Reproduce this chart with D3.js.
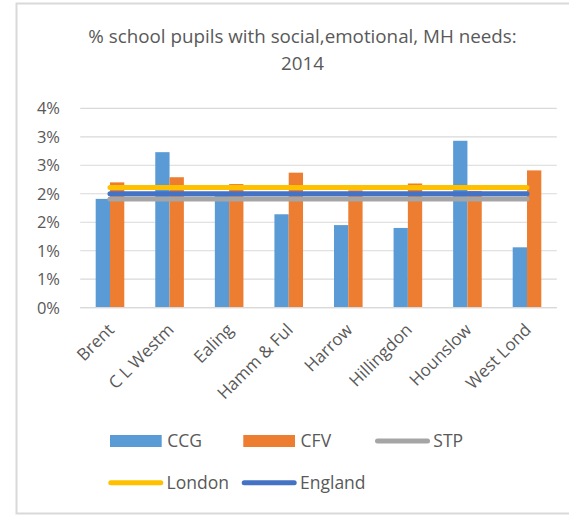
<!DOCTYPE html>
<html><head><meta charset="utf-8">
<script src="https://cdn.jsdelivr.net/npm/d3@7"></script>
<style>body{margin:0;background:#fff}svg{display:block}text{font-family:"Open Sans",sans-serif;fill:#595959}</style>
</head><body><svg id="c" width="569" height="515"></svg>
<script>
const categories = ["Brent","C L Westm","Ealing","Hamm & Ful","Harrow","Hillingdon","Hounslow","West Lond"];
const ccg = [1.91,2.73,2.00,1.64,1.45,1.40,2.93,1.06];
const cfv = [2.20,2.29,2.17,2.37,2.06,2.18,2.05,2.41];
const stp = 1.91, london = 2.11, england = 2.00;
const yTicks = [0,0.5,1,1.5,2,2.5,3,3.5];
const yTickLabels = ["0%","1%","1%","2%","2%","3%","3%","4%"];
const titleLines = ["% school pupils with social,emotional, MH needs:","2014"];
const legendItems = [
  {name:"CCG",type:"bar",color:"#5B9BD5"},
  {name:"CFV",type:"bar",color:"#ED7D31"},
  {name:"STP",type:"line",color:"#A5A5A5"},
  {name:"London",type:"line",color:"#FFC000"},
  {name:"England",type:"line",color:"#4472C4"}
];

const svg = d3.select("#c");
svg.append("rect").attr("x",16.5).attr("y",3.5).attr("width",580).attr("height",510)
  .attr("fill","#fff").attr("stroke","#d9d9d9").attr("stroke-width",2);

const x = d3.scaleBand().domain(categories).range([80.2,556.8]).padding(0);
const y = d3.scaleLinear().domain([0,3.5]).range([307.7,108.3]);
const bw = x.bandwidth();
const xs = d3.scaleBand().domain(["CCG","CFV"]).range([bw/2-14.3,bw/2+14.3]);

// gridlines
svg.append("g").selectAll("line").data(yTicks).join("line")
  .attr("x1",80.2).attr("x2",556.8).attr("y1",d=>y(d)).attr("y2",d=>y(d))
  .attr("stroke","#d9d9d9").attr("stroke-width",1.2);

// y labels
svg.append("g").selectAll("text").data(yTicks).join("text")
  .attr("x",60).attr("y",d=>y(d)).attr("dy","0.36em").attr("text-anchor","end")
  .attr("font-size",16.5).text((d,i)=>yTickLabels[i]);

// bars
const series = [{key:"CCG",vals:ccg,color:"#5B9BD5"},{key:"CFV",vals:cfv,color:"#ED7D31"}];
series.forEach(s=>{
  svg.append("g").selectAll("rect").data(categories).join("rect")
    .attr("x",d=>x(d)+xs(s.key)).attr("width",xs.bandwidth())
    .attr("y",(d,i)=>y(s.vals[i])).attr("height",(d,i)=>y(0)-y(s.vals[i]))
    .attr("fill",s.color);
});

// lines
const lines = [{v:stp,c:"#A5A5A5"},{v:england,c:"#4472C4"},{v:london,c:"#FFC000"}];
lines.forEach(l=>{
  svg.append("path").attr("d",d3.line().x(d=>x(d)+bw/2).y(()=>y(l.v))(categories))
    .attr("stroke",l.c).attr("stroke-width",5).attr("stroke-linecap","round").attr("fill","none");
});

// x axis line
svg.append("line").attr("x1",80.2).attr("x2",556.8).attr("y1",y(0)).attr("y2",y(0))
  .attr("stroke","#d9d9d9").attr("stroke-width",1.2);

// x labels
svg.append("g").selectAll("text").data(categories).join("text")
  .attr("transform",d=>`translate(${x(d)+bw/2+1},${y(0)+19}) rotate(-45)`)
  .attr("text-anchor","end").attr("dy","0.35em").attr("font-size",17).text(d=>d);

// title
svg.append("text").attr("x",302.5).attr("y",43).attr("text-anchor","middle").attr("font-size",18.8).text(titleLines[0]);
svg.append("text").attr("x",302.5).attr("y",70).attr("text-anchor","middle").attr("font-size",18.8).text(titleLines[1]);

// legend
const legPos = [{x:110,y:441},{x:243.3,y:441},{x:375,y:441},{x:108.3,y:482.7},{x:241.7,y:482.7}];
legendItems.forEach((it,i)=>{
  const p = legPos[i];
  const g = svg.append("g");
  if(it.type==="bar"){
    g.append("rect").attr("x",p.x).attr("y",p.y-6).attr("width",51.7).attr("height",12).attr("fill",it.color);
    g.append("text").attr("x",p.x+57.3).attr("y",p.y).attr("dy","0.36em").attr("font-size",17.5).text(it.name);
  } else {
    g.append("line").attr("x1",p.x+2.5).attr("x2",p.x+52.5).attr("y1",p.y).attr("y2",p.y)
      .attr("stroke",it.color).attr("stroke-width",5).attr("stroke-linecap","round");
    g.append("text").attr("x",p.x+58.3).attr("y",p.y).attr("dy","0.36em").attr("font-size",17.5).text(it.name);
  }
});
</script></body></html>
